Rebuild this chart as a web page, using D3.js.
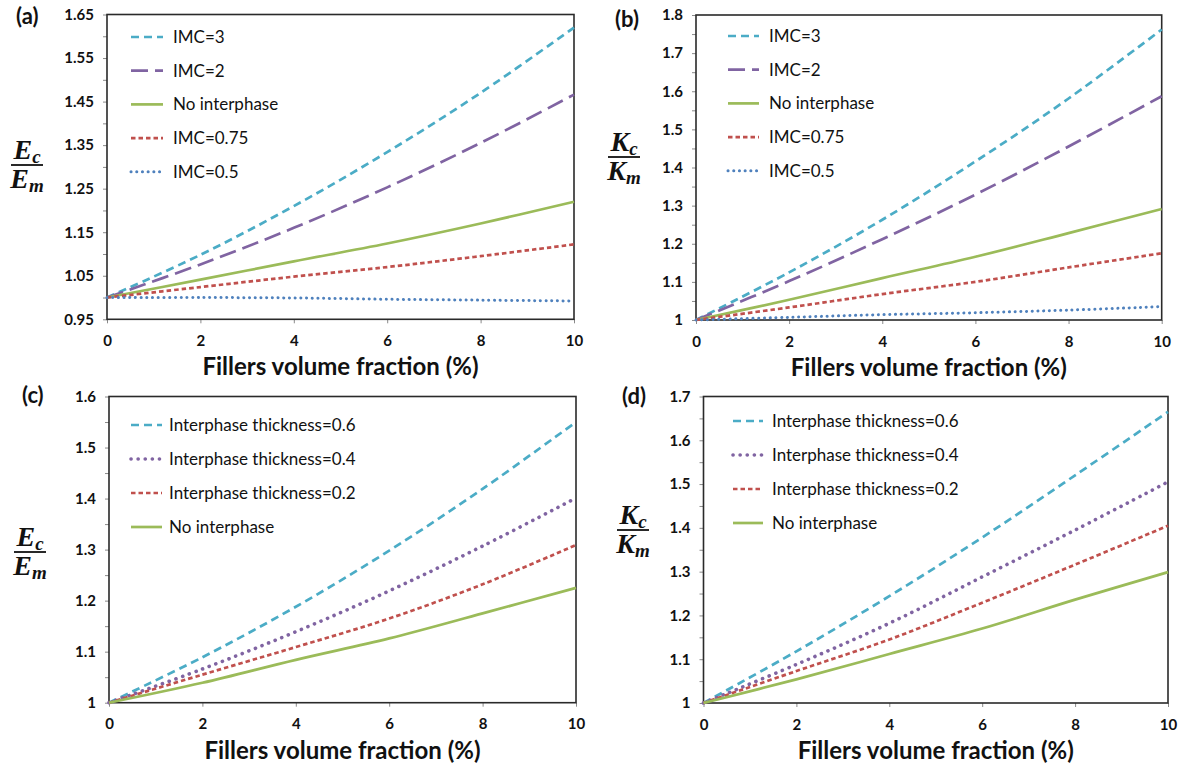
<!DOCTYPE html>
<html><head><meta charset="utf-8">
<script src="https://cdn.jsdelivr.net/npm/d3@7"></script>
<style>body{margin:0;background:#fff}svg{display:block}</style>
</head><body><svg id="c" width="1182" height="772"></svg>
<script>
// ---- data ----
const fractionX = [0, 2, 4, 6, 8, 10];
const xTickVals = [0, 2, 4, 6, 8, 10];

const aIMC3   = [1, 1.098, 1.21, 1.334, 1.47, 1.62];
const aIMC2   = [1, 1.076, 1.16, 1.253, 1.355, 1.466];
const aNone   = [1, 1.041, 1.083, 1.124, 1.17, 1.22];
const aIMC075 = [1, 1.024, 1.048, 1.07, 1.095, 1.122];
const aIMC05  = [1, 1.0, 0.999, 0.996, 0.994, 0.992];

const bIMC3   = [1, 1.125, 1.263, 1.416, 1.581, 1.762];
const bIMC2   = [1, 1.102, 1.212, 1.329, 1.455, 1.587];
const bNone   = [1, 1.053, 1.11, 1.166, 1.228, 1.291];
const bIMC075 = [1, 1.033, 1.068, 1.1, 1.138, 1.175];
const bIMC05  = [1, 1.007, 1.014, 1.019, 1.026, 1.035];

const cT06  = [1, 1.089, 1.188, 1.298, 1.419, 1.55];
const cT04  = [1, 1.066, 1.139, 1.219, 1.307, 1.401];
const cT02  = [1, 1.055, 1.109, 1.165, 1.232, 1.309];
const cNone = [1, 1.039, 1.084, 1.126, 1.175, 1.225];

const dT06  = [1, 1.118, 1.244, 1.378, 1.52, 1.665];
const dT04  = [1, 1.088, 1.182, 1.288, 1.395, 1.505];
const dT02  = [1, 1.073, 1.145, 1.229, 1.316, 1.405];
const dNone = [1, 1.054, 1.112, 1.170, 1.236, 1.299];

const imcLabels = ["IMC=3", "IMC=2", "No interphase", "IMC=0.75", "IMC=0.5"];
const thickLabels = ["Interphase thickness=0.6", "Interphase thickness=0.4", "Interphase thickness=0.2", "No interphase"];
const xTitle = "Fillers volume fraction (%)";

// ---- styles ----
const ST = {
  cyan:   {color:"#4BACC6", dash:"8,5", w:2.7, cap:"butt"},
  purpleL:{color:"#8064A2", dash:"17,7", w:2.7, cap:"butt"},
  green:  {color:"#9BBB59", dash:null, w:2.7, cap:"butt"},
  red:    {color:"#C0504D", dash:"4.5,3", w:2.7, cap:"butt"},
  blueDot:{color:"#4F81BD", dash:"0.1,5.6", w:3, cap:"round"},
  purpleDot:{color:"#8064A2", dash:"0.1,7", w:3.6, cap:"round"}
};

const svg = d3.select("#c");
const FONT = "Lato, 'Open Sans', sans-serif";

function panel(cfg){
  const g = svg.append("g");
  const x = d3.scaleLinear().domain([0,10]).range([cfg.l, cfg.r]);
  const y = d3.scaleLinear().domain(cfg.yd).range([cfg.b, cfg.t]);
  const ticks = d3.range(Math.round((cfg.yd[1]-cfg.yd[0])/0.05)+1).map(i => +(cfg.yd[0]+i*0.05).toFixed(2));
  const ya = d3.axisLeft(y).tickValues(ticks).tickSize(4).tickSizeOuter(0).tickPadding(9)
    .tickFormat((d,i) => (i % 2 === 0) ? cfg.fmt(d) : "");
  const gy = g.append("g").attr("transform",`translate(${cfg.l},0)`).call(ya);
  const xa = d3.axisBottom(x).tickValues(xTickVals).tickSize(4).tickSizeOuter(0).tickPadding(12).tickFormat(d3.format("d"));
  const gx = g.append("g").attr("transform",`translate(0,${cfg.b})`).call(xa);
  [gx, gy].forEach(a => {
    a.select(".domain").remove();
    a.selectAll(".tick line").attr("stroke","#8a8a8a").attr("stroke-width",1);
    a.selectAll("text").attr("font-family",FONT).attr("font-weight","bold").attr("font-size",15).attr("fill","#111");
  });
  // frame
  g.append("rect").attr("x",cfg.l).attr("y",cfg.t).attr("width",cfg.r-cfg.l).attr("height",cfg.b-cfg.t)
    .attr("fill","none").attr("stroke","#2a2a2a").attr("stroke-width",1.6);
  // lines
  const line = d3.line().x((d,i)=>x(fractionX[i])).y(d=>y(d)).curve(d3.curveCatmullRom);
  cfg.series.forEach(s => {
    const p = g.append("path").attr("d", line(s.v)).attr("fill","none")
      .attr("stroke", s.st.color).attr("stroke-width", s.st.w).attr("stroke-linecap", s.st.cap);
    if (s.st.dash) p.attr("stroke-dasharray", s.st.dash);
  });
  // legend
  cfg.series.forEach((s,i) => {
    const yy = cfg.leg.y0 + i*cfg.leg.dy;
    const p = g.append("line").attr("x1",cfg.leg.x1).attr("x2",cfg.leg.x2).attr("y1",yy).attr("y2",yy)
      .attr("stroke", s.st.color).attr("stroke-width", s.st.w).attr("stroke-linecap", s.st.cap);
    if (s.st.dash) p.attr("stroke-dasharray", s.st.dash);
    g.append("text").attr("x",cfg.leg.tx).attr("y",yy+6).text(s.label)
      .attr("font-family",FONT).attr("font-size",17).attr("fill","#111");
  });
  // panel label
  g.append("text").attr("x",cfg.pl[0]).attr("y",cfg.pl[1]).text(cfg.tag)
    .attr("font-family",FONT).attr("font-size",22).attr("font-weight","bold").attr("fill","#111");
  // x title
  g.append("text").attr("x",(cfg.l+cfg.r)/2).attr("y",cfg.xt).attr("text-anchor","middle").text(xTitle)
    .attr("font-family",FONT).attr("font-size",24).attr("font-weight","bold").attr("fill","#111");
  // y fraction label
  const fx = cfg.fr[0], fy = cfg.fr[1];
  const mk = (yy, base, sub) => {
    const t = g.append("text").attr("x",fx).attr("y",yy).attr("text-anchor","middle")
      .attr("font-family","'Liberation Serif', serif").attr("font-style","italic").attr("font-weight","bold")
      .attr("font-size",28).attr("fill","#111");
    t.append("tspan").text(base);
    t.append("tspan").text(sub).attr("font-size",19).attr("dy",4);
  };
  mk(fy-6, cfg.sym, "c");
  g.append("line").attr("x1",fx-16).attr("x2",fx+16).attr("y1",fy).attr("y2",fy).attr("stroke","#111").attr("stroke-width",1.8);
  mk(fy+23, cfg.sym, "m");
}

panel({l:107, r:574, t:14.5, b:319.3, yd:[0.95,1.65], fmt:d3.format(".2f"), tag:"(a)", pl:[16,24], xt:375, sym:"E", fr:[27,165],
  leg:{x1:131,x2:163,tx:173,y0:37,dy:33.7},
  series:[{v:aIMC3,st:ST.cyan,label:imcLabels[0]},{v:aIMC2,st:ST.purpleL,label:imcLabels[1]},{v:aNone,st:ST.green,label:imcLabels[2]},
          {v:aIMC075,st:ST.red,label:imcLabels[3]},{v:aIMC05,st:ST.blueDot,label:imcLabels[4]}]});
panel({l:696, r:1161.7, t:15, b:320, yd:[1,1.8], fmt:d3.format("~g"), tag:"(b)", pl:[615,27], xt:376, sym:"K", fr:[624,157],
  leg:{x1:728,x2:759,tx:769,y0:36,dy:33.7},
  series:[{v:bIMC3,st:ST.cyan,label:imcLabels[0]},{v:bIMC2,st:ST.purpleL,label:imcLabels[1]},{v:bNone,st:ST.green,label:imcLabels[2]},
          {v:bIMC075,st:ST.red,label:imcLabels[3]},{v:bIMC05,st:ST.blueDot,label:imcLabels[4]}]});
panel({l:109, r:576, t:396.5, b:702.7, yd:[1,1.6], fmt:d3.format("~g"), tag:"(c)", pl:[22,403], xt:759, sym:"E", fr:[30,552],
  leg:{x1:131,x2:162,tx:169,y0:425,dy:34},
  series:[{v:cT06,st:ST.cyan,label:thickLabels[0]},{v:cT04,st:ST.purpleDot,label:thickLabels[1]},{v:cT02,st:ST.red,label:thickLabels[2]},
          {v:cNone,st:ST.green,label:thickLabels[3]}]});
panel({l:703.5, r:1168, t:396.5, b:703, yd:[1,1.7], fmt:d3.format("~g"), tag:"(d)", pl:[622,404], xt:759, sym:"K", fr:[633,530],
  leg:{x1:733,x2:763,tx:772,y0:421,dy:34},
  series:[{v:dT06,st:ST.cyan,label:thickLabels[0]},{v:dT04,st:ST.purpleDot,label:thickLabels[1]},{v:dT02,st:ST.red,label:thickLabels[2]},
          {v:dNone,st:ST.green,label:thickLabels[3]}]});
</script></body></html>
